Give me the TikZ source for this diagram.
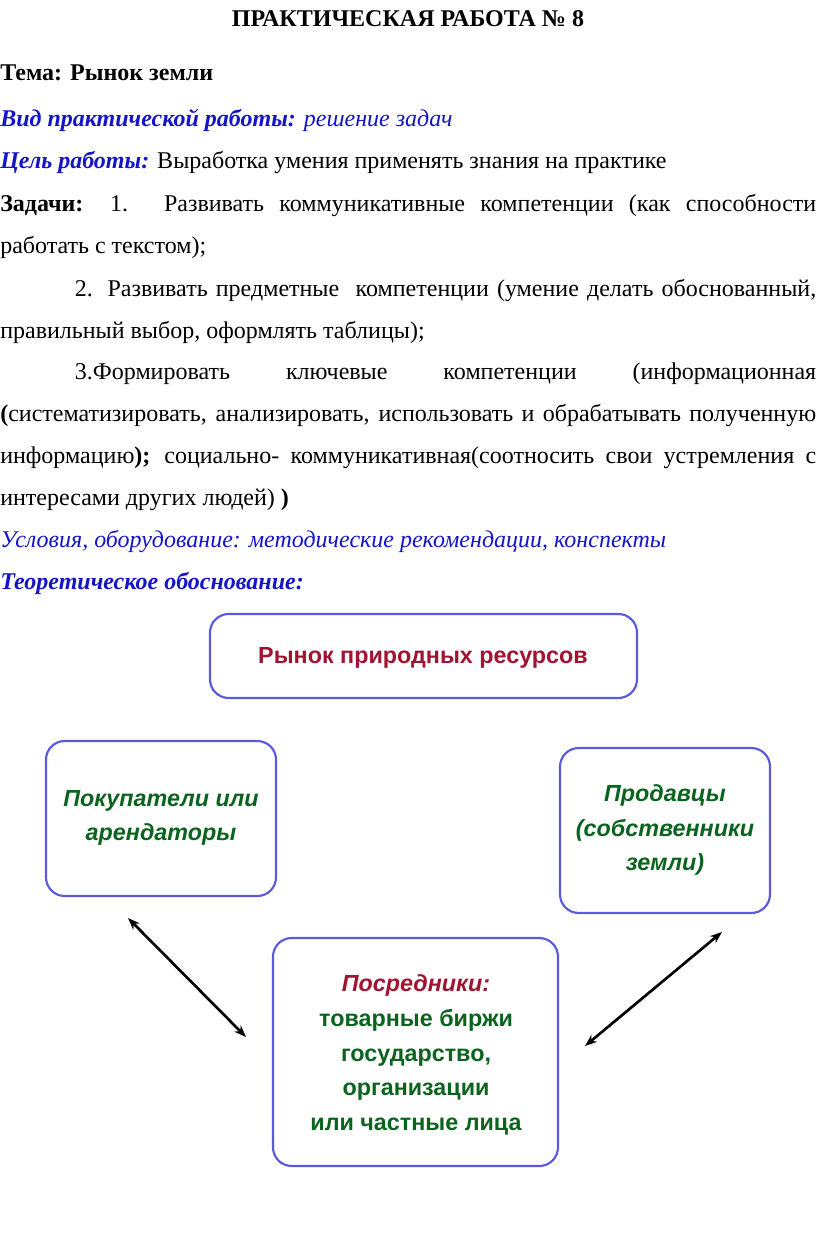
\documentclass[tikz,border=0pt]{standalone}
\usepackage{fontspec}
\setmainfont{Liberation Serif}
\newfontfamily\boxfont{Liberation Sans}
\usetikzlibrary{arrows.meta}
\definecolor{txtblue}{RGB}{20,20,200}
\definecolor{boxblue}{RGB}{90,90,220}
\definecolor{boxred}{RGB}{160,20,50}
\definecolor{boxgreen}{RGB}{10,100,30}
\tikzset{
  line/.style={anchor=base west, inner sep=0pt, font=\fontsize{18}{22}\selectfont},
  frame/.style={draw=boxblue, line width=1.6pt, rounded corners=14pt, fill=white},
  boxtext/.style={font=\boxfont\bfseries\fontsize{17.5}{26}\selectfont, align=center},
  link/.style={line width=2pt, {Stealth[length=9pt]}-{Stealth[length=9pt]}}
}
\newcommand{\jline}[1]{\makebox[612pt][s]{#1}}
\begin{document}
\begin{tikzpicture}[x=0.75pt,y=-0.75pt]
\useasboundingbox (0,0) rectangle (816,1257);
% heading
\node[line, anchor=base] (title) at (408,26) {\bfseries ПРАКТИЧЕСКАЯ РАБОТА № 8};
\node[line] (tema) at (0,80) {\bfseries Тема: Рынок земли};
\node[line, text=txtblue] (vid) at (0,126) {\bfseries\itshape Вид практической работы: \mdseries решение задач};
\node[line] (cel) at (0,168) {\textcolor{txtblue}{\bfseries\itshape Цель работы:} Выработка умения применять знания на практике};
% tasks
\node[line] (z1) at (0,211) {\jline{\textbf{Задачи:} 1. Развивать коммуникативные компетенции (как способности}};
\node[line] (z1b) at (0,253) {работать с текстом);};
\node[line] (z2) at (0,296) {\makebox[612pt][s]{\hspace{56pt}2. Развивать предметные\ \ компетенции (умение делать обоснованный,}};
\node[line] (z2b) at (0,338) {правильный выбор, оформлять таблицы);};
\node[line] (z3) at (0,379) {\makebox[612pt][s]{\hspace{56pt}3.Формировать \hfill ключевые \hfill компетенции \hfill (информационная}};
\node[line] (z3b) at (0,421) {\jline{\textbf{(}систематизировать, анализировать, использовать и обрабатывать полученную}};
\node[line] (z3c) at (0,463) {\jline{информацию\textbf{);} социально- коммуникативная(соотносить свои устремления с}};
\node[line] (z3d) at (0,505) {интересами других людей) \textbf{)}};
\node[line, text=txtblue] (usl) at (0,547) {\itshape Условия, оборудование: методические рекомендации, конспекты};
\node[line, text=txtblue] (teor) at (0,589) {\bfseries\itshape Теоретическое обоснование:};
% scheme
\draw[frame] (210,614) rectangle (637,698);
\node[boxtext, text=boxred] (market) at (423,658) {Рынок природных ресурсов};
\draw[frame] (46,741) rectangle (276,896);
\node[boxtext, text=boxgreen, font=\boxfont\bfseries\itshape\fontsize{17.5}{26}\selectfont] (buyers) at (161,818) {Покупатели или\\арендаторы};
\draw[frame] (560,748) rectangle (770,913);
\node[boxtext, text=boxgreen, font=\boxfont\bfseries\itshape\fontsize{17.5}{26}\selectfont] (sellers) at (665,830) {Продавцы\\(собственники\\земли)};
\draw[frame] (273,938) rectangle (558,1166);
\node[boxtext, text=boxgreen] (middle) at (416,1055) {\textcolor{boxred}{\itshape Посредники:}\\товарные биржи\\государство,\\организации\\или частные лица};
\coordinate (la) at (128,918);
\coordinate (lb) at (246,1037);
\coordinate (ra) at (722,932);
\coordinate (rb) at (585,1046);
\draw[link] (la) -- (lb);
\draw[link] (ra) -- (rb);
\end{tikzpicture}
\end{document}
